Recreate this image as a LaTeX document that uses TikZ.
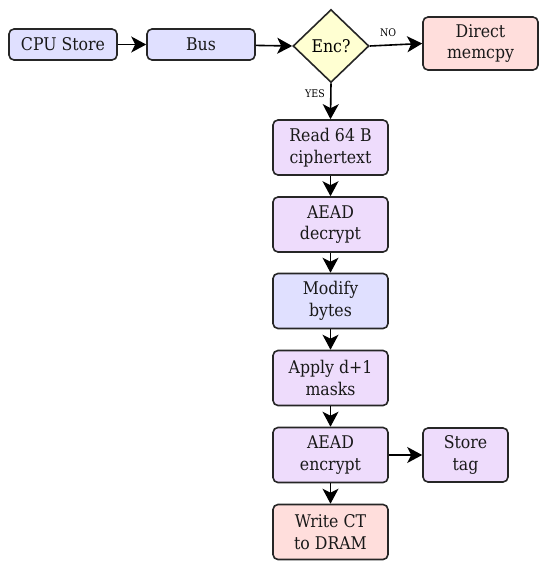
\documentclass[tikz,border=0pt]{standalone}
\usepackage{fontspec}
\setmainfont{DejaVu Serif Condensed}
\usetikzlibrary{shapes.geometric,arrows.meta}
\definecolor{cblue}{HTML}{E0E0FF}
\definecolor{cpurple}{HTML}{EEDCFC}
\definecolor{cyellow}{HTML}{FFFFD2}
\definecolor{cpink}{HTML}{FFDEDC}
\tikzset{
  box/.style={draw=black!85, line width=1.6pt, rounded corners=5pt, inner sep=0pt,
    align=center, font=\fontsize{17.5}{21.5}\selectfont, text=black!90},
  wide/.style={box, minimum width=108pt, minimum height=31pt},
  tall/.style={box, minimum width=115pt, minimum height=55pt},
  dec/.style={draw=black!85, line width=1.6pt, diamond, aspect=1.04, inner sep=0pt,
    minimum width=76pt, minimum height=73pt, fill=cyellow, font=\fontsize{17.5}{21.5}\selectfont},
  arr/.style={line width=1.6pt, -{Stealth[length=15pt,width=16pt,inset=4pt]}},
  lbl/.style={font=\fontsize{10.5}{12}\selectfont}
}
\begin{document}
\begin{tikzpicture}[x=1pt,y=1pt]
\useasboundingbox (0,0) rectangle (548,-568);
\node[wide, fill=cblue] (cpu) at (63,-44.5) {CPU Store};
\node[wide, fill=cblue] (bus) at (201,-44.5) {Bus};
\node[dec] (enc) at (331,-46) {Enc?};
\node[tall, fill=cpink, minimum height=53pt] (direct) at (480.5,-43.5) {Direct\\memcpy};
\node[tall, fill=cpurple] (read) at (330.5,-147.5) {Read 64 B\\ciphertext};
\node[tall, fill=cpurple] (dec1) at (330.5,-224.5) {AEAD\\decrypt};
\node[tall, fill=cblue] (mod) at (330.5,-301) {Modify\\bytes};
\node[tall, fill=cpurple] (mask) at (330.5,-378) {Apply d+1\\masks};
\node[tall, fill=cpurple] (encr) at (330.5,-455) {AEAD\\encrypt};
\node[box, fill=cpurple, minimum width=85pt, minimum height=54pt] (tag) at (465.5,-455) {Store\\tag};
\node[tall, fill=cpink] (write) at (330.5,-532) {Write CT\\to DRAM};
\draw[arr] (cpu) -- (bus);
\draw[arr] (bus) -- (enc.west);
\draw[arr] (enc.east) -- node[lbl, above, pos=0.35, yshift=4pt] {NO} (direct.west);
\draw[arr] (enc.south) -- node[lbl, left, pos=0.3, xshift=-2pt] {YES} (read.north);
\draw[arr] (read) -- (dec1);
\draw[arr] (dec1) -- (mod);
\draw[arr] (mod) -- (mask);
\draw[arr] (mask) -- (encr);
\draw[arr] (encr) -- (tag);
\draw[arr] (encr) -- (write);
\end{tikzpicture}
\end{document}
